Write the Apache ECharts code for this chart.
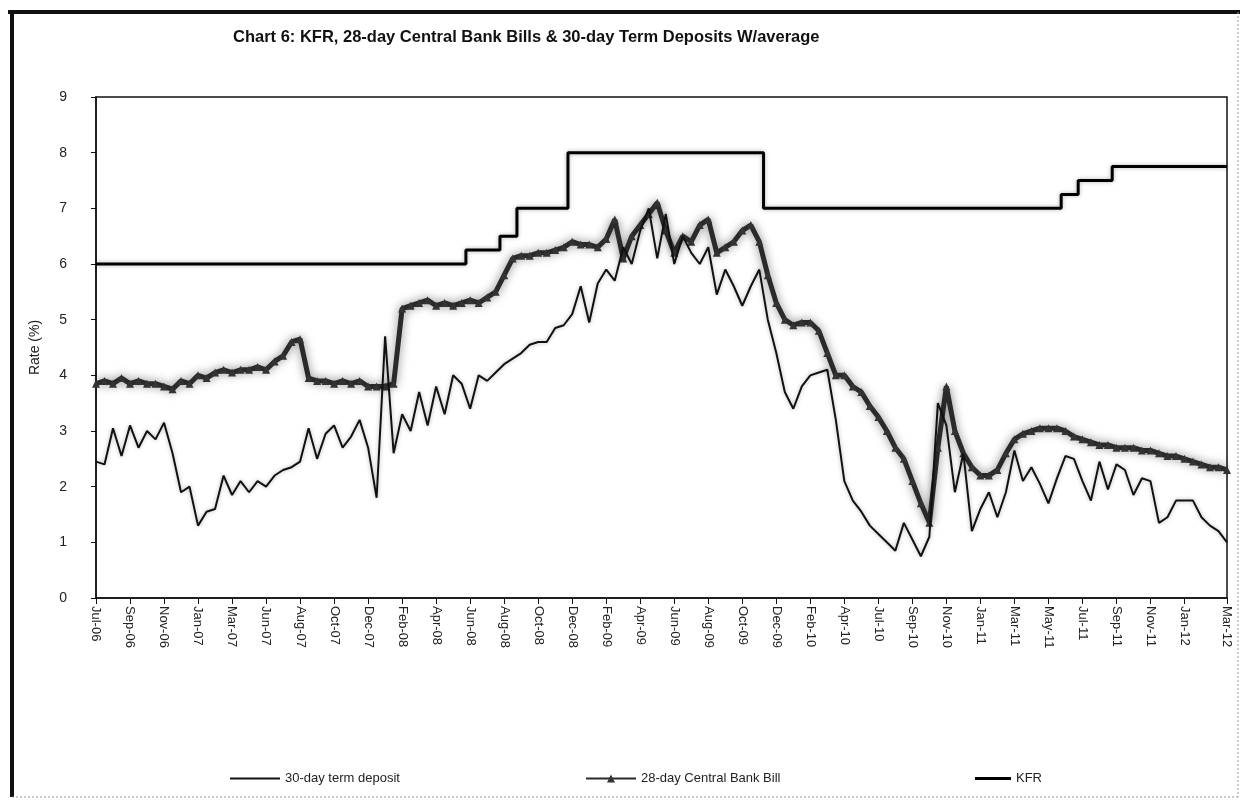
<!DOCTYPE html>
<html>
<head>
<meta charset="utf-8">
<title>Chart 6</title>
<script src="https://cdn.jsdelivr.net/npm/echarts@6/dist/echarts.min.js"></script>
<style>
  html, body { margin: 0; padding: 0; background: #fff; }
  #main { width: 1242px; height: 802px; }
</style>
</head>
<body>
<div id="main"></div>
<script>
// tick labels on the x axis and the point index where each one sits
const tickLabels = ['Jul-06','Sep-06','Nov-06','Jan-07','Mar-07','Jun-07','Aug-07','Oct-07','Dec-07','Feb-08',
  'Apr-08','Jun-08','Aug-08','Oct-08','Dec-08','Feb-09','Apr-09','Jun-09','Aug-09','Oct-09',
  'Dec-09','Feb-10','Apr-10','Jul-10','Sep-10','Nov-10','Jan-11','Mar-11','May-11','Jul-11',
  'Sep-11','Nov-11','Jan-12','Mar-12'];
const tickIdx = [0,4,8,12,16,20,24,28,32,36,40,44,48,52,56,60,64,68,72,76,
  80,84,88,92,96,100,104,108,112,116,120,124,128,133];

// 30-day term deposit (%)
const termDeposit = [
  2.45,2.4,3.05,2.55,3.1,2.7,3.0,2.85,3.15,2.6,
  1.9,2.0,1.3,1.55,1.6,2.2,1.85,2.1,1.9,2.1,
  2.0,2.2,2.3,2.35,2.45,3.05,2.5,2.95,3.1,2.7,
  2.9,3.2,2.7,1.8,4.7,2.6,3.3,3.0,3.7,3.1,
  3.8,3.3,4.0,3.85,3.4,4.0,3.9,4.05,4.2,4.3,
  4.4,4.55,4.6,4.6,4.85,4.9,5.1,5.6,4.95,5.65,
  5.9,5.7,6.3,6.0,6.6,7.0,6.1,6.9,6.0,6.5,
  6.2,6.0,6.3,5.45,5.9,5.6,5.25,5.6,5.9,5.0,
  4.4,3.7,3.4,3.8,4.0,4.05,4.1,3.2,2.1,1.75,
  1.55,1.3,1.15,1.0,0.85,1.35,1.05,0.75,1.1,3.5,
  3.1,1.9,2.6,1.2,1.6,1.9,1.45,1.9,2.65,2.1,
  2.35,2.05,1.7,2.15,2.55,2.5,2.1,1.75,2.45,1.95,
  2.4,2.3,1.85,2.15,2.1,1.35,1.45,1.75,1.75,1.75,
  1.45,1.3,1.2,1.0
];

// 28-day Central Bank Bill (%)
const cbBill = [
  3.85,3.9,3.85,3.95,3.85,3.9,3.85,3.85,3.8,3.75,
  3.9,3.85,4.0,3.95,4.05,4.1,4.05,4.1,4.1,4.15,
  4.1,4.25,4.35,4.6,4.65,3.95,3.9,3.9,3.85,3.9,
  3.85,3.9,3.8,3.8,3.8,3.85,5.2,5.25,5.3,5.35,
  5.25,5.3,5.25,5.3,5.35,5.3,5.4,5.5,5.8,6.1,
  6.15,6.15,6.2,6.2,6.25,6.3,6.4,6.35,6.35,6.3,
  6.45,6.8,6.1,6.5,6.7,6.9,7.1,6.6,6.2,6.5,
  6.4,6.7,6.8,6.2,6.3,6.4,6.6,6.7,6.4,5.8,
  5.3,5.0,4.9,4.95,4.95,4.8,4.4,4.0,4.0,3.8,
  3.7,3.45,3.25,3.0,2.7,2.5,2.1,1.7,1.35,2.7,
  3.8,3.0,2.6,2.35,2.2,2.2,2.3,2.6,2.85,2.95,
  3.0,3.05,3.05,3.05,3.0,2.9,2.85,2.8,2.75,2.75,
  2.7,2.7,2.7,2.65,2.65,2.6,2.55,2.55,2.5,2.45,
  2.4,2.35,2.35,2.3
];

// KFR (%)
const kfr = [
  6,6,6,6,6,6,6,6,6,6,
  6,6,6,6,6,6,6,6,6,6,
  6,6,6,6,6,6,6,6,6,6,
  6,6,6,6,6,6,6,6,6,6,
  6,6,6,6,6.25,6.25,6.25,6.25,6.5,6.5,
  7,7,7,7,7,7,8,8,8,8,
  8,8,8,8,8,8,8,8,8,8,
  8,8,8,8,8,8,8,8,8,7,
  7,7,7,7,7,7,7,7,7,7,
  7,7,7,7,7,7,7,7,7,7,
  7,7,7,7,7,7,7,7,7,7,
  7,7,7,7,7.25,7.25,7.5,7.5,7.5,7.5,
  7.75,7.75,7.75,7.75,7.75,7.75,7.75,7.75,7.75,7.75,
  7.75,7.75,7.75,7.75
];

const cats = termDeposit.map((v, i) => {
  const k = tickIdx.indexOf(i);
  return k >= 0 ? tickLabels[k] : '';
});
const isTick = (i) => tickIdx.indexOf(i) >= 0;

const FONT = "'Liberation Sans', Arial, sans-serif";
const legendText = { fontFamily: FONT, fontSize: 13, color: '#222' };

let myChart = echarts.init(document.getElementById('main'));
let option = {
  backgroundColor: '#fff',
  animation: false,
  title: {
    text: 'Chart 6: KFR, 28-day Central Bank Bills & 30-day Term Deposits W/average',
    left: 228,
    top: 24,
    textStyle: { fontFamily: FONT, fontWeight: 'bold', fontSize: 16.5, color: '#111' }
  },
  legend: [
    {
      data: [{ name: '30-day term deposit', icon: 'rect' }], left: 225, top: 767,
      itemWidth: 50, itemHeight: 2, textStyle: legendText
    },
    {
      data: ['28-day Central Bank Bill'], left: 580, top: 767,
      itemWidth: 50, itemHeight: 10, textStyle: legendText
    },
    {
      data: [{ name: 'KFR', icon: 'rect' }], left: 970, top: 767,
      itemWidth: 36, itemHeight: 3, textStyle: legendText
    }
  ],
  grid: {
    left: 96, right: 15, top: 97, bottom: 204,
    show: true, borderColor: '#111', borderWidth: 1.5, backgroundColor: 'transparent'
  },
  xAxis: {
    type: 'category',
    data: cats,
    boundaryGap: false,
    axisLine: { lineStyle: { color: '#111', width: 1.5 } },
    axisTick: { interval: isTick, length: 6, lineStyle: { color: '#111' } },
    axisLabel: {
      interval: isTick,
      rotate: -90,
      margin: 8,
      fontFamily: FONT, fontSize: 13, color: '#222'
    },
    splitLine: { show: false }
  },
  yAxis: {
    type: 'value',
    min: 0, max: 9, interval: 1,
    name: 'Rate (%)',
    nameLocation: 'middle',
    nameGap: 54,
    nameTextStyle: { fontFamily: FONT, fontSize: 14, color: '#222' },
    axisLine: { show: true, lineStyle: { color: '#111', width: 1.5 } },
    axisTick: { show: true, length: 5, lineStyle: { color: '#111' } },
    axisLabel: { fontFamily: FONT, fontSize: 14, color: '#222', margin: 29 },
    splitLine: { show: false }
  },
  series: [
    {
      name: '28-day Central Bank Bill',
      type: 'line',
      data: cbBill,
      symbol: 'triangle',
      symbolSize: 8,
      showAllSymbol: true,
      itemStyle: { color: '#333' },
      lineStyle: {
        color: '#2a2a2a', width: 5,
        shadowColor: 'rgba(0,0,0,0.5)', shadowBlur: 10
      },
      z: 2
    },
    {
      name: '30-day term deposit',
      type: 'line',
      data: termDeposit,
      symbol: 'none',
      itemStyle: { color: '#111' },
      lineStyle: {
        color: '#111', width: 2,
        shadowColor: 'rgba(0,0,0,0.3)', shadowBlur: 4
      },
      z: 3
    },
    {
      name: 'KFR',
      type: 'line',
      data: kfr,
      step: 'middle',
      symbol: 'none',
      itemStyle: { color: '#000' },
      lineStyle: {
        color: '#000', width: 3,
        shadowColor: 'rgba(0,0,0,0.3)', shadowBlur: 4
      },
      z: 4
    }
  ],
  graphic: [
    { type: 'line', shape: { x1: 8, y1: 12, x2: 1240, y2: 12 }, style: { stroke: '#111', lineWidth: 4 } },
    { type: 'line', shape: { x1: 12, y1: 10, x2: 12, y2: 797 }, style: { stroke: '#111', lineWidth: 4 } },
    { type: 'line', shape: { x1: 1238, y1: 12, x2: 1238, y2: 797 }, style: { stroke: '#999', lineWidth: 1, lineDash: [2, 2] } },
    { type: 'line', shape: { x1: 12, y1: 797, x2: 1238, y2: 797 }, style: { stroke: '#999', lineWidth: 1, lineDash: [2, 2] } }
  ]
};
myChart.setOption(option);
</script>
</body>
</html>
